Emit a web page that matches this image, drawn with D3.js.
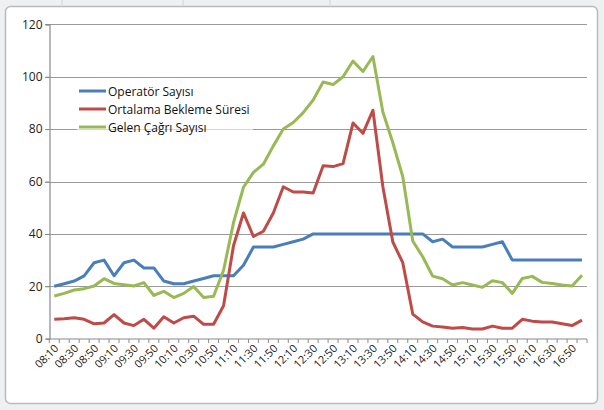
<!DOCTYPE html>
<html><head><meta charset="utf-8">
<script src="https://cdn.jsdelivr.net/npm/d3@7"></script>
<style>
html,body{margin:0;padding:0;background:#fff;}
svg{display:block;}
text{font-family:"Open Sans","Noto Sans",sans-serif;}
</style></head>
<body>
<svg id="c" width="604" height="410"></svg>
<script>
const categories = ["08:10","08:20","08:30","08:40","08:50","09:00","09:10","09:20","09:30","09:40","09:50","10:00","10:10","10:20","10:30","10:40","10:50","11:00","11:10","11:20","11:30","11:40","11:50","12:00","12:10","12:20","12:30","12:40","12:50","13:00","13:10","13:20","13:30","13:40","13:50","14:00","14:10","14:20","14:30","14:40","14:50","15:00","15:10","15:20","15:30","15:40","15:50","16:00","16:10","16:20","16:30","16:40","16:50","17:00"];
const operatorSayisi = [20,21,22,24,29,30,24,29,30,27,27,22,21,21,22,23,24,24,24,28,35,35,35,36,37,38,40,40,40,40,40,40,40,40,40,40,40,40,37,38,35,35,35,35,36,37,30,30,30,30,30,30,30,30];
const ortalamaBekleme = [7.4,7.6,8,7.4,5.7,6,9.2,6,5,7.4,4,8.4,6,8,8.6,5.5,5.5,12.6,35.5,48,39,41,48,58,56,56,55.6,66,65.7,66.8,82.3,78.4,87.2,58,36.9,29,9.4,6.4,4.8,4.5,4,4.3,3.7,3.7,4.8,4,4,7.4,6.7,6.4,6.4,5.7,5,7.1];
const gelenCagri = [16.3,17.3,18.6,19.1,20.1,22.9,21.1,20.6,20.1,21.4,16.5,18.1,15.7,17.3,19.9,15.7,16.2,26.1,44.3,57.8,63.5,66.6,73.6,80,82.5,86.3,91.1,98,97,100,106,102,107.7,86.5,74.8,61.8,37.3,31.3,23.9,22.9,20.5,21.4,20.5,19.6,22.1,21.4,17.3,23,23.8,21.5,21.1,20.5,20.1,24.2];
const yTicks = [0,20,40,60,80,100,120];
const seriesNames = ["Operatör Sayısı","Ortalama Bekleme Süresi","Gelen Çağrı Sayısı"];
const seriesColors = ["#4A7EBB","#BE4B48","#98B954"];

const svg = d3.select("#c");
// sheet background
svg.append("rect").attr("width",604).attr("height",410).attr("fill","#eef0f2");
svg.selectAll("line.sh").data([62,183,330]).enter().append("line")
  .attr("x1",d=>d).attr("x2",d=>d).attr("y1",0).attr("y2",5).attr("stroke","#d0d4d8");
// chart frame
svg.append("rect").attr("x",5.5).attr("y",6.5).attr("width",592).attr("height",397)
  .attr("rx",5).attr("fill","#fff").attr("stroke","#b8bcc0").attr("stroke-width",1.5);

const x = d3.scaleBand().domain(categories).range([49.3,587]);
const y = d3.scaleLinear().domain([0,120]).range([338.7,24.3]);

// gridlines
svg.append("g").selectAll("line").data(yTicks.filter(d=>d>0)).enter().append("line")
  .attr("x1",45).attr("x2",587).attr("y1",d=>Math.round(y(d))+0.5).attr("y2",d=>Math.round(y(d))+0.5)
  .attr("stroke","#9a9a9a").attr("stroke-width",1.2);

// y axis
const yAxis = d3.axisLeft(y).tickValues(yTicks).tickSize(4).tickPadding(3);
const gy = svg.append("g").attr("transform","translate(49.5,0)").call(yAxis);
gy.select(".domain").attr("stroke","#8a8a8a").attr("stroke-width",1.2);
gy.selectAll(".tick line").attr("stroke","#8a8a8a");
gy.selectAll("text").attr("font-size",12).attr("fill","#222");

// x axis
const gx = svg.append("g").attr("transform","translate(0,339)");
gx.append("line").attr("x1",49.3).attr("x2",587).attr("stroke","#8a8a8a").attr("stroke-width",1.2);
const bounds = categories.map(c=>x(c)).concat([x.range()[1]]);
gx.selectAll("line.t").data(bounds).enter().append("line")
  .attr("x1",d=>d).attr("x2",d=>d).attr("y1",0).attr("y2",4).attr("stroke","#8a8a8a");
gx.selectAll("text").data(categories.filter((c,i)=>i%2===0)).enter().append("text")
  .attr("transform",d=>`translate(${x(d)+x.bandwidth()/2+5},${10}) rotate(-45)`)
  .attr("text-anchor","end").attr("font-size",11).attr("fill","#222").text(d=>d);

// legend background
svg.append("rect").attr("x",77).attr("y",81).attr("width",176).attr("height",52)
  .attr("fill","#fff").attr("opacity",0.6);

// lines
const allSeries = [operatorSayisi, ortalamaBekleme, gelenCagri];
const line = d3.line().x((d,i)=>x(categories[i])+x.bandwidth()/2).y(d=>y(d));
svg.append("g").selectAll("path").data(allSeries).enter().append("path")
  .attr("d",d=>line(d)).attr("fill","none").attr("stroke",(d,i)=>seriesColors[i])
  .attr("stroke-width",3).attr("stroke-linejoin","round");

// legend
const lg = svg.append("g");
seriesNames.forEach((n,i)=>{
  const yy = 91 + i*18;
  lg.append("line").attr("x1",79).attr("x2",106).attr("y1",yy).attr("y2",yy)
    .attr("stroke",seriesColors[i]).attr("stroke-width",3);
  lg.append("text").attr("x",108).attr("y",yy+4.5).attr("font-size",12).attr("fill","#111").text(n);
});
</script>
</body></html>
